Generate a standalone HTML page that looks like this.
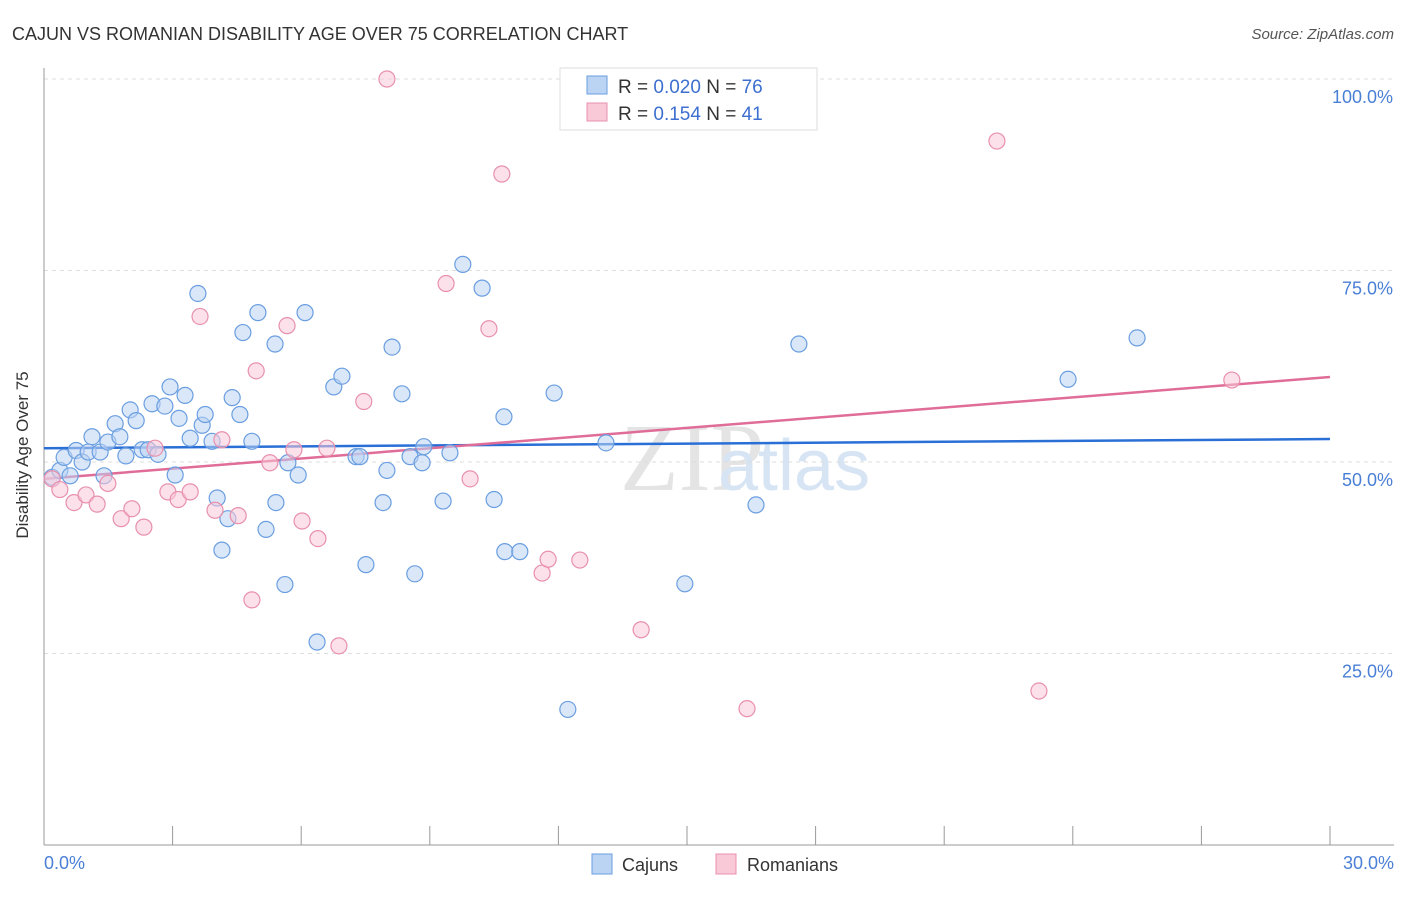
<!DOCTYPE html>
<html><head><meta charset="utf-8"><style>
body{margin:0;background:#fff;font-family:"Liberation Sans",sans-serif}
</style></head><body>
<svg width="1406" height="892" xmlns="http://www.w3.org/2000/svg">
<text x="12" y="40" font-size="18" fill="#333">CAJUN VS ROMANIAN DISABILITY AGE OVER 75 CORRELATION CHART</text>
<text x="1394" y="39" font-size="15" fill="#555" text-anchor="end" font-style="italic">Source: ZipAtlas.com</text>
<text x="620" y="490" font-size="96" fill="#e4e4e4" font-family="Liberation Serif">ZIP</text>
<text x="718" y="490" font-size="72" fill="#d6e4f4">atlas</text>
<g id="grid"></g><g id="axes"></g><g id="lines"></g><g id="pts"></g>
<text x="28" y="455" font-size="17" fill="#333" text-anchor="middle" transform="rotate(-90 28 455)">Disability Age Over 75</text>
<text x="44" y="869" font-size="18" fill="#4a7fd6">0.0%</text>
<text x="1394" y="869" font-size="18" fill="#4a7fd6" text-anchor="end">30.0%</text>
<g>
<rect x="560" y="68" width="257" height="62" fill="#fff" stroke="#ddd"/>
<rect x="587" y="76" width="20" height="18" fill="#bcd4f4" stroke="#6a9ee0"/>
<rect x="587" y="103" width="20" height="18" fill="#f9c9d8" stroke="#e890ac"/>
<text x="618" y="93" font-size="19" fill="#333">R = <tspan fill="#3d6fd0">0.020</tspan>   N = <tspan fill="#3d6fd0">76</tspan></text>
<text x="618" y="120" font-size="19" fill="#333">R =  <tspan fill="#3d6fd0">0.154</tspan>   N = <tspan fill="#3d6fd0">41</tspan></text>
</g>
<g>
<rect x="592" y="854" width="20" height="20" fill="#bcd4f4" stroke="#6a9ee0"/>
<text x="622" y="871" font-size="18" fill="#333">Cajuns</text>
<rect x="716" y="854" width="20" height="20" fill="#f9c9d8" stroke="#e890ac"/>
<text x="747" y="871" font-size="18" fill="#333">Romanians</text>
</g>
</svg>
<script>
const yTicks=[25,50,75,100];
const xTicks=[0,3,6,9,12,15,18,21,24,27,30];
const cajunX=[0.19,0.37,0.47,0.61,0.75,0.89,1.03,1.12,1.31,1.49,1.40,1.66,1.77,1.91,2.01,2.15,2.29,2.43,2.52,2.66,2.82,2.94,3.06,3.15,3.29,3.41,3.59,3.69,3.76,3.92,4.04,4.15,4.29,4.39,4.57,4.64,4.85,4.99,5.18,5.39,5.41,5.62,5.69,5.93,6.09,6.37,6.76,6.95,7.28,7.37,7.51,7.91,8.00,8.12,8.35,8.54,8.65,8.82,8.86,9.31,9.47,9.77,10.22,10.50,10.73,10.75,11.10,11.90,12.22,13.11,14.95,16.61,17.61,23.89,25.50];
const cajunY=[48,48.9,50.6,48.2,51.5,50,51.3,53.3,51.3,52.6,48.2,55,53.3,50.8,56.8,55.4,51.6,51.6,57.6,51,57.3,59.8,48.3,55.7,58.7,53.1,72,54.8,56.2,52.7,45.3,38.5,42.6,58.4,56.2,66.9,52.7,69.5,41.2,65.4,44.7,34,49.9,48.3,69.5,26.5,59.8,61.2,50.7,50.7,36.6,44.7,48.9,65,58.9,50.7,35.4,49.9,52,44.9,51.2,75.8,72.7,45.1,55.9,38.3,38.3,59,17.7,52.5,34.1,44.4,65.4,60.8,66.2];
const romX=[0.19,0.37,0.70,0.98,1.24,1.49,1.80,2.05,2.33,2.59,2.89,3.13,3.41,3.64,3.99,4.15,4.53,4.85,4.95,5.27,5.67,5.83,6.02,6.39,6.60,6.88,7.46,8.00,9.38,9.94,10.38,10.68,11.62,11.76,12.50,13.93,16.40,16.63,22.23,23.21,27.71];
const romY=[47.8,46.4,44.7,45.7,44.5,47.2,42.6,43.9,41.5,51.8,46.1,45.1,46.1,69.0,43.7,52.9,43,32,61.9,49.9,67.8,51.6,42.3,40,51.8,26,57.9,100,73.3,47.8,67.4,87.6,35.5,37.3,37.2,28.1,17.8,100,91.9,20.1,60.7];
const cajunLine=[51.8,53.0], romLine=[47.8,61.1];
const X=v=>44+v*(1286/30), Y=v=>845-v*7.66;
const NS='http://www.w3.org/2000/svg';
function mk(p,t,a){const e=document.createElementNS(NS,t);for(const k in a)e.setAttribute(k,a[k]);document.getElementById(p).appendChild(e);return e;}
yTicks.forEach(t=>{
 const l=mk('grid','line',{x1:44,x2:1394,y1:Y(t),y2:Y(t),stroke:'#ddd','stroke-dasharray':'4,4'});
 
 
 const tx=mk('grid','text',{x:1393,y:Y(t)+24,'font-size':18,fill:'#4a7fd6','text-anchor':'end'});tx.textContent=t.toFixed(1)+'%';
 
 
});
const ax=mk('axes','line',{x1:44,x2:44,y1:68,y2:845,stroke:'#999'});


const bx=mk('axes','line',{x1:44,x2:1394,y1:845,y2:845,stroke:'#999'});


xTicks.forEach(t=>{const l=mk('axes','line',{x1:X(t),x2:X(t),y1:826,y2:845,stroke:'#999'});
 
 });
function pts(xs,ys,f,s,n){xs.forEach((x,i)=>{const c=mk('pts','circle',{cx:X(x),cy:Y(ys[i]),r:8,fill:f,'fill-opacity':0.55,stroke:s,'stroke-width':1.2});
 
 });}
pts(cajunX,cajunY,'#bcd4f4','#6a9ee0','cajun-point');
pts(romX,romY,'#f9c9d8','#e890ac','romanian-point');
const l1=mk('lines','line',{x1:X(0),x2:X(30),y1:Y(cajunLine[0]),y2:Y(cajunLine[1]),stroke:'#2a6fd6','stroke-width':2.5});


const l2=mk('lines','line',{x1:X(0),x2:X(30),y1:Y(romLine[0]),y2:Y(romLine[1]),stroke:'#e06c98','stroke-width':2.5});


</script>
</body></html>
